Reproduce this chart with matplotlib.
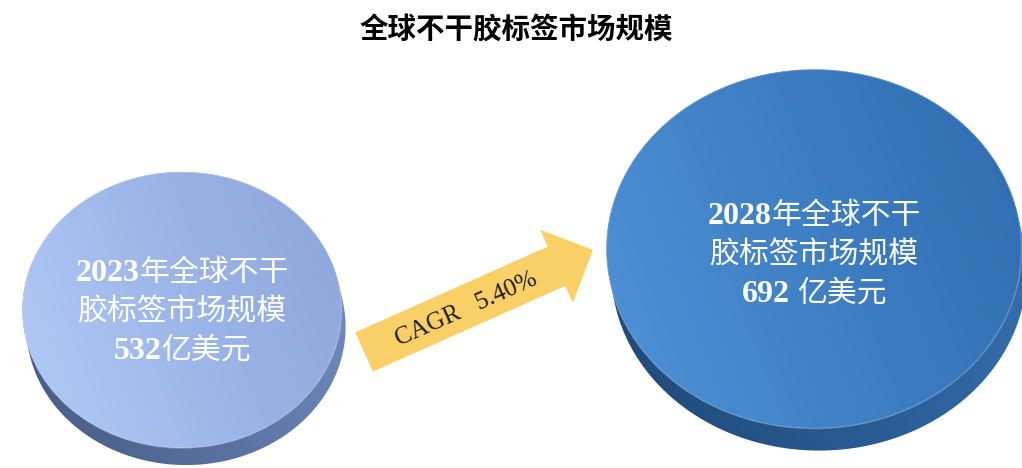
import numpy as np
import matplotlib.pyplot as plt
from matplotlib.patches import Ellipse, FancyArrow, Polygon
from matplotlib.colors import LinearSegmentedColormap

plt.rcParams['font.family'] = ['Noto Sans CJK SC', 'DejaVu Sans']

# data
title = "全球不干胶标签市场规模"
years = [2023, 2028]
market_size = [532, 692]          # 亿美元
size_gap = [0, 7]                 # the 2028 label has a space before 亿美元
cagr = 5.40

fig = plt.figure(figsize=(10.22, 4.68), dpi=100)
ax = fig.add_axes([0, 0, 1, 1])
ax.axis('off')

# disc layout (pixel units)
centers = [(182, 310), (814, 249)]
text_cy = [310, 253]
px_per_unit = 0.6
squash = 0.865
depth = [(4, 17), (5, 22)]
face_maps = [["#b2cbf7", "#9db6e9", "#8ca4d9"],
             ["#4f93d7", "#3f7fc4", "#2e6aae"]]
side_maps = [["#465a82", "#5a72a2", "#7890c2"],
             ["#1e4877", "#2a5c94", "#3975b4"]]


def minkowski_outline(cx, cy, w, h, dx, dy, n=400):
    # outline of the ellipse swept along (dx, dy): gives the disc's side
    a, b = w / 2, h / 2
    pts = []
    for th in np.linspace(0, 2 * np.pi, n):
        x, y = cx + a * np.cos(th), cy + b * np.sin(th)
        nx, ny = np.cos(th) / a, np.sin(th) / b
        if nx * dx + ny * dy > 0:
            x, y = x + dx, y + dy
        pts.append((x, y))
    return np.array(pts)


def gradient(n=200):
    xx, yy = np.meshgrid(np.linspace(0, 1, n), np.linspace(0, 1, n))
    return 0.75 * xx + 0.25 * (1 - yy)


for i in range(2):
    cx, cy = centers[i]
    w = market_size[i] * px_per_unit
    h = w * squash
    dx, dy = depth[i]

    side = Polygon(minkowski_outline(cx, cy, w, h, dx, dy), closed=True,
                   facecolor='none', edgecolor='none')
    ax.add_patch(side)
    im = ax.imshow(gradient(), cmap=LinearSegmentedColormap.from_list('s', side_maps[i]),
                   extent=(cx - w / 2, cx + w / 2 + dx, cy + h / 2 + dy, cy - h / 2),
                   aspect='auto', interpolation='bilinear', zorder=1)
    im.set_clip_path(side)

    face = Ellipse((cx, cy), w, h, facecolor='none', edgecolor='none', zorder=2)
    ax.add_patch(face)
    im = ax.imshow(gradient(), cmap=LinearSegmentedColormap.from_list('f', face_maps[i]),
                   extent=(cx - w / 2, cx + w / 2, cy + h / 2, cy - h / 2),
                   aspect='auto', interpolation='bilinear', zorder=2)
    im.set_clip_path(face)
    ax.add_patch(Ellipse((cx, cy), w, h, facecolor='none',
                         edgecolor=(1, 1, 1, 0.25), lw=1.0, zorder=3))

ax.set_xlim(0, 1022)
ax.set_ylim(468, 0)

# growth arrow
tail = np.array([364, 352])
tip = np.array([593, 250])
vec = tip - tail
ax.add_patch(FancyArrow(tail[0], tail[1], vec[0], vec[1], width=43, head_width=80,
                        head_length=40, length_includes_head=True,
                        facecolor="#f9cf68", edgecolor='none', zorder=4))
angle = np.degrees(np.arctan2(-vec[1], vec[0]))
ax.text(466, 309, f"CAGR   {cagr:.2f}%", rotation=angle, rotation_mode='anchor',
        ha='center', va='center', fontsize=18, color="#1e1e1e",
        family=['Liberation Serif'], zorder=5)

# disc labels: serif bold digits + CJK text
renderer = fig.canvas.get_renderer()
serif = dict(family=['Liberation Serif'], weight='bold', fontsize=23)
cjk = dict(family=['Noto Sans CJK SC'], weight='normal', fontsize=21.5)


def put_line(cx, base, parts, gap=0):
    texts = []
    for s, style in parts:
        texts.append(ax.text(0, base, s, color='white', ha='left', va='baseline',
                             zorder=6, **style))
    widths = [t.get_window_extent(renderer).width for t in texts]
    widths[0] += gap
    x = cx - sum(widths) / 2
    for t, wd in zip(texts, widths):
        t.set_x(x)
        x += wd


for i in range(2):
    cx = centers[i][0]
    cy = text_cy[i]
    put_line(cx, cy - 39 + 10, [(str(years[i]), serif), ("年全球不干", cjk)])
    put_line(cx, cy + 10, [("胶标签市场规模", cjk)])
    put_line(cx, cy + 39 + 10, [(str(market_size[i]), serif), ("亿美元", cjk)],
             gap=size_gap[i])

ax.text(516, 31, title, ha='center', va='center', fontsize=20.5, color='black',
        family=['Noto Sans CJK SC'], weight='bold')

fig.savefig("out.png", dpi=100)
